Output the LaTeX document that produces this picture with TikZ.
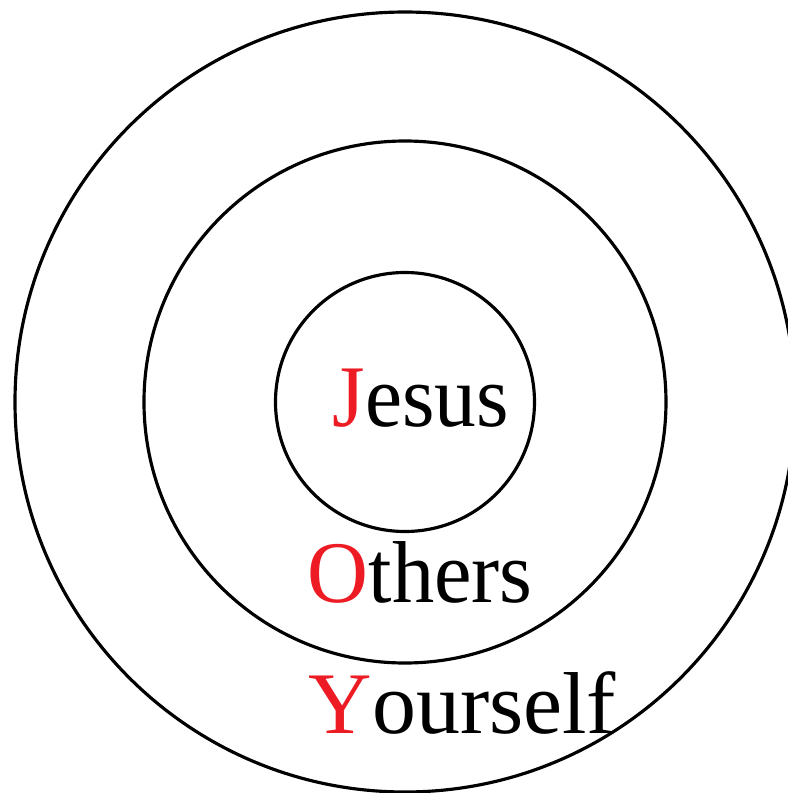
\documentclass[tikz,border=0pt]{standalone}
\usepackage{fontspec}
\setmainfont{Liberation Serif}
\usepackage{tikz}
\definecolor{joyred}{HTML}{ED1C24}
\tikzset{
  ring/.style={line width=0.9pt,black},
  word/.style={anchor=base west,inner sep=0pt,font=\fontsize{25}{27}\selectfont}
}
\newcommand{\initial}[1]{\textcolor{joyred}{#1}}

\begin{document}
\begin{tikzpicture}[scale=1.0]
    \useasboundingbox (-4.05,-3.91) rectangle (3.83,4.02);

    % Circles
    \draw[ring] (0,0) circle (3.90cm);
    \draw[ring] (0,0) circle (2.61cm);
    \draw[ring] (0,0) circle (1.295cm);

    % Words
    \node[word,xscale=0.95] (jesus)    at (-0.73,-0.24) {\initial{J}esus};
    \node[word,xscale=0.96] (others)   at (-0.98,-2.00) {\initial{O}thers};
    \node[word]             (yourself) at (-0.97,-3.31) {\initial{Y}ourself};
  \end{tikzpicture}
\end{document}
